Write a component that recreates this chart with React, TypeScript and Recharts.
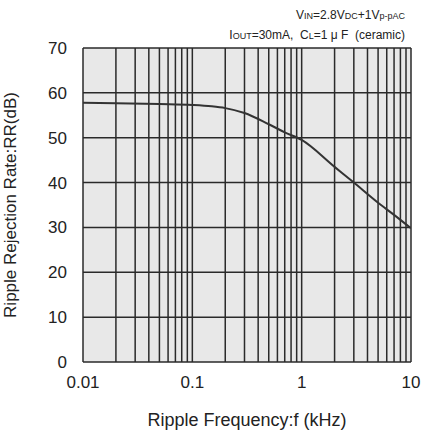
import React from 'react';
import {
  LineChart,
  Line,
  XAxis,
  YAxis,
  CartesianGrid,
  ReferenceLine,
} from 'recharts';

// ripple frequency (kHz) and rejection rate (dB)
const freqs = [0.01, 0.02, 0.05, 0.1, 0.15, 0.2, 0.3, 0.5, 0.7, 1, 2, 3, 5, 7, 10];
const rr = [57.8, 57.7, 57.5, 57.3, 57.0, 56.6, 55.5, 53.0, 51.2, 49.5, 43.5, 40.0, 35.5, 32.8, 29.8];

const xTicks = [0.01, 0.1, 1, 10];
const yTicks = [0, 10, 20, 30, 40, 50, 60, 70];
const minorGrid = [
  0.02, 0.03, 0.04, 0.05, 0.06, 0.07, 0.08, 0.09,
  0.2, 0.3, 0.4, 0.5, 0.6, 0.7, 0.8, 0.9,
  2, 3, 4, 5, 6, 7, 8, 9,
];

const data = freqs.map((f, i) => ({ f, rr: rr[i] }));

const FONT = 'Liberation Sans, Arial, sans-serif';
const GRID = '#2a2a2a';
const NB = '\u00a0';

const App: React.FC = () => {
  return (
    <div style={{ position: 'absolute', left: 0, top: 0, width: 424, height: 432, background: '#fff' }}>
      <svg
        width={424}
        height={50}
        style={{ position: 'absolute', left: 0, top: 0, zIndex: 2 }}
        fontFamily={FONT}
        fill="#222"
      >
        <text x={405} y={19} fontSize={12} textAnchor="end">
          V<tspan fontSize={9}>IN</tspan>=2.8V<tspan fontSize={9}>DC</tspan>+1V<tspan fontSize={9}>p-p</tspan>
          <tspan fontSize={9}>AC</tspan>
        </text>
        <text x={405} y={39} fontSize={12} textAnchor="end">
          I<tspan fontSize={9}>OUT</tspan>{`=30mA,${NB}${NB}C`}<tspan fontSize={9}>L</tspan>
          {`=1${NB}μ${NB}F${NB}${NB}(ceramic)`}
        </text>
      </svg>
      <LineChart
        width={424}
        height={432}
        data={data}
        margin={{ top: 48, right: 13, left: 0, bottom: 0 }}
      >
        <CartesianGrid
          vertical={false}
          stroke={GRID}
          strokeWidth={1.5}
          fill="#e8e8e8"
          fillOpacity={1}
        />
        {minorGrid.map((v) => (
          <ReferenceLine key={v} x={v} stroke={GRID} strokeWidth={1.5} />
        ))}
        {xTicks.map((v) => (
          <ReferenceLine key={'m' + v} x={v} stroke={GRID} strokeWidth={1.5} />
        ))}
        <XAxis
          dataKey="f"
          type="number"
          scale="log"
          domain={[0.01, 10]}
          ticks={xTicks}
          tickFormatter={(v) => String(v)}
          axisLine={false}
          tickLine={false}
          tick={{ fontSize: 17, fill: '#222', fontFamily: FONT }}
          tickMargin={8}
          height={70}
          allowDataOverflow
          label={{
            value: 'Ripple Frequency:f (kHz)',
            position: 'insideBottom',
            offset: 6,
            style: { fontSize: 18, fill: '#222', fontFamily: FONT },
          }}
        />
        <YAxis
          type="number"
          domain={[0, 70]}
          ticks={yTicks}
          axisLine={false}
          tickLine={false}
          width={83}
          tickMargin={10}
          tick={{ fontSize: 17, fill: '#222', fontFamily: FONT }}
          label={{
            value: 'Ripple Rejection Rate:RR(dB)',
            angle: -90,
            position: 'insideLeft',
            offset: 10,
            style: { fontSize: 17, fill: '#222', fontFamily: FONT, textAnchor: 'middle' },
          }}
        />
        <Line
          type="monotone"
          dataKey="rr"
          stroke="#333"
          strokeWidth={2}
          dot={false}
          isAnimationActive={false}
        />
      </LineChart>
    </div>
  );
};

export default App;
